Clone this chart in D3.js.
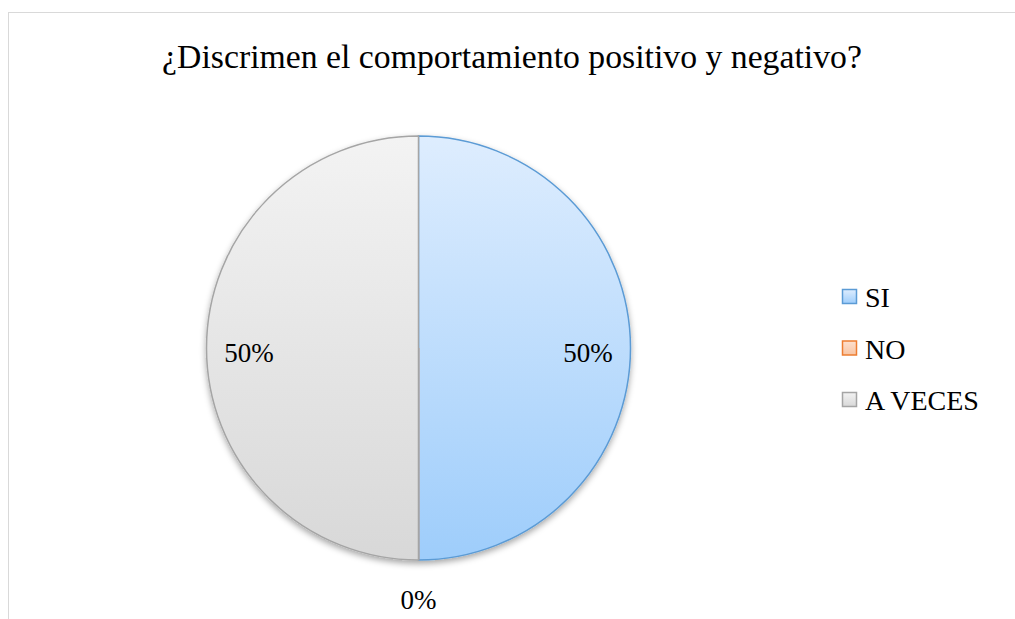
<!DOCTYPE html>
<html>
<head>
<meta charset="utf-8">
<script src="https://cdn.jsdelivr.net/npm/d3@7"></script>
</head>
<body style="margin:0;background:#fff">
<svg id="chart" width="1015" height="619"></svg>
<script>
const chartTitle = "¿Discrimen el comportamiento positivo y negativo?";
const categories = ["SI", "NO", "A VECES"];
const values = [50, 0, 50];
const labels = ["50%", "0%", "50%"];
const strokeColors = ["#5b9bd5", "#ed7d31", "#a5a5a5"];
const gradTop = ["#deedfe", "#fde0cf", "#f3f3f3"];
const gradBottom = ["#9ecdfb", "#f8c4a2", "#d8d8d8"];

const svg = d3.select("#chart");
const W = 1015, H = 619;
const cx = 418.5, cy = 348, r = 212;

function addText(sel, size) {
  return sel.append("text")
    .style("font-family", "'Times New Roman'")
    .style("font-size", size + "px")
    .attr("fill", "#000");
}

const defs = svg.append("defs");
categories.forEach((c, i) => {
  const g = defs.append("linearGradient").attr("id", "g" + i)
    .attr("gradientUnits", "userSpaceOnUse")
    .attr("x1", 0).attr("y1", -r).attr("x2", 0).attr("y2", r);
  g.append("stop").attr("offset", "0%").attr("stop-color", gradTop[i]);
  g.append("stop").attr("offset", "100%").attr("stop-color", gradBottom[i]);
  const lg = defs.append("linearGradient").attr("id", "lg" + i)
    .attr("x1", 0).attr("y1", 0).attr("x2", 0).attr("y2", 1);
  lg.append("stop").attr("offset", "0%").attr("stop-color", gradTop[i]);
  lg.append("stop").attr("offset", "100%").attr("stop-color", gradBottom[i]);
});
const f = defs.append("filter").attr("id", "shadow")
  .attr("x", "-20%").attr("y", "-20%").attr("width", "140%").attr("height", "140%");
f.append("feDropShadow").attr("dx", 0).attr("dy", 3).attr("stdDeviation", 3)
  .attr("flood-color", "#000").attr("flood-opacity", 0.35);

svg.append("rect").attr("x", 8.5).attr("y", 12.5).attr("width", W + 10).attr("height", H + 10)
  .attr("fill", "none").attr("stroke", "#d9d9d9").attr("stroke-width", 1);

const pie = d3.pie().sort(null).value(d => d)(values);
const arc = d3.arc().innerRadius(0).outerRadius(r);
const g = svg.append("g").attr("transform", `translate(${cx},${cy})`);
g.append("g").attr("filter", "url(#shadow)")
  .selectAll("path").data(pie).join("path")
  .attr("d", arc)
  .attr("fill", (d, i) => `url(#g${i})`)
  .attr("stroke", (d, i) => strokeColors[i])
  .attr("stroke-width", 1.5);

// title
const t = addText(svg, 28).attr("x", 512).attr("y", 68).attr("text-anchor", "middle").text(chartTitle);
const tw = t.node().getComputedTextLength();
if (tw > 0) t.style("font-size", (28 * 700 / tw) + "px");

// data labels
const inArc = d3.arc().innerRadius(r * 0.8).outerRadius(r * 0.8);
pie.forEach((d, i) => {
  let x, y;
  if (d.value === 0) {
    const rr = r + 40;
    x = rr * Math.sin(d.startAngle);
    y = -rr * Math.cos(d.startAngle) + 9;
  } else {
    const c = inArc.centroid(d);
    x = c[0]; y = c[1] + 14;
  }
  addText(g, 27).attr("x", x).attr("y", y).attr("text-anchor", "middle").text(labels[i]);
});

// legend
const leg = svg.append("g").attr("transform", "translate(842,289)");
categories.forEach((c, i) => {
  const it = leg.append("g").attr("transform", `translate(0,${i * 51.5})`);
  it.append("rect").attr("x", 0.5).attr("y", 0.5).attr("width", 14).attr("height", 14)
    .attr("fill", `url(#lg${i})`)
    .attr("stroke", strokeColors[i]).attr("stroke-width", 1.5);
  addText(it, 28).attr("x", 23).attr("y", 18).text(c);
});
</script>
</body>
</html>
